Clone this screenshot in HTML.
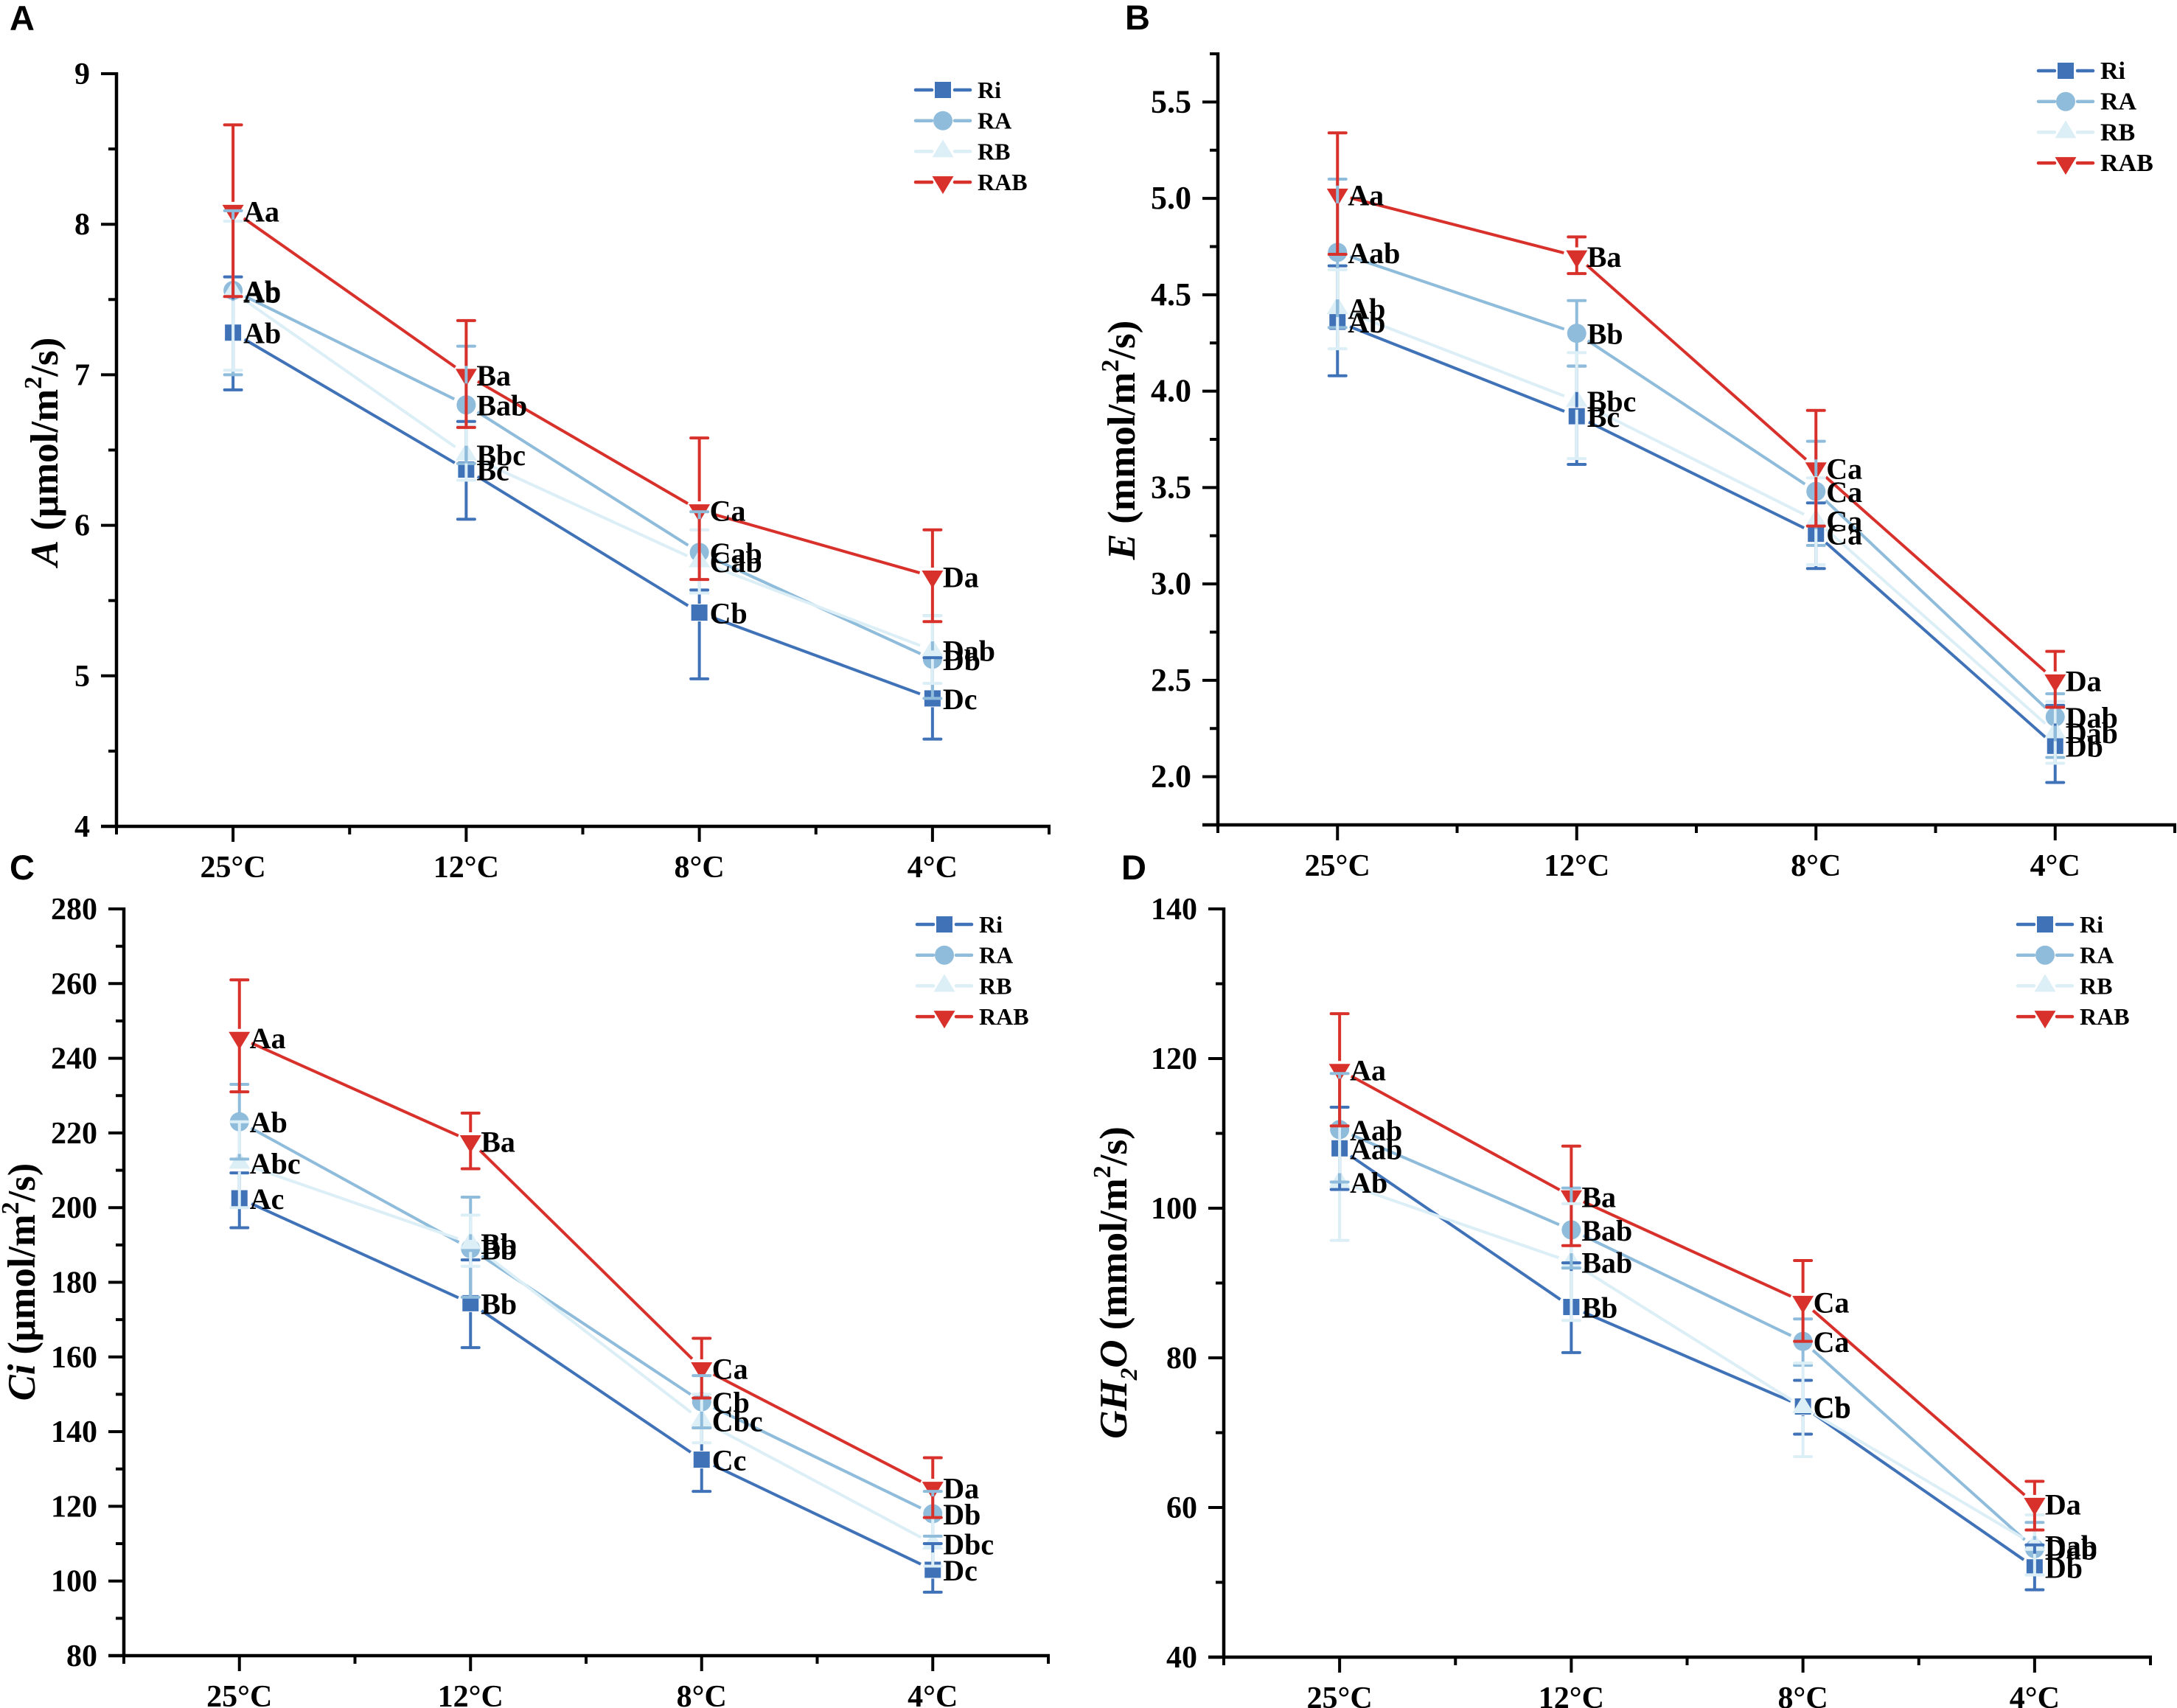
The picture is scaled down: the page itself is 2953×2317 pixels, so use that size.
<!DOCTYPE html>
<html lang="en">
<head>
<meta charset="utf-8">
<title>Photosynthesis responses across temperature</title>
<style>
html,body{margin:0;padding:0;background:#fff;}
svg{display:block;font-family:"Liberation Serif",serif;}
text{fill:#000;font-weight:bold;}
</style>
</head>
<body>
<svg id="figure" xmlns="http://www.w3.org/2000/svg" width="2953" height="2317" viewBox="0 0 2953 2317"></svg>
<script>
// ---- shared categories / series names ----
const categories = ['25°C', '12°C', '8°C', '4°C'];
const seriesNames = ['Ri', 'RA', 'RB', 'RAB'];

// ---- panel A ----
const aTicks = [4, 5, 6, 7, 8, 9];
const aRi = [7.28, 6.37, 5.42, 4.85];
const aRiLow = [6.90, 6.04, 4.98, 4.58];
const aRiHigh = [7.65, 6.69, 5.57, 5.12];
const aRA = [7.56, 6.80, 5.82, 5.11];
const aRALow = [7.00, 6.41, 5.55, 4.85];
const aRAHigh = [8.09, 7.19, 6.09, 5.40];
const aRB = [7.55, 6.47, 5.76, 5.17];
const aRBLow = [7.03, 6.30, 5.55, 4.95];
const aRBHigh = [8.02, 6.66, 5.97, 5.40];
const aRAB = [8.09, 7.00, 6.10, 5.66];
const aRABLow = [7.52, 6.65, 5.64, 5.36];
const aRABHigh = [8.66, 7.36, 6.58, 5.97];
const aLabelsRi = ['Ab', 'Bc', 'Cb', 'Dc'];
const aLabelsRA = ['Ab', 'Bab', 'Cab', 'Db'];
const aLabelsRB = ['Ab', 'Bbc', 'Cab', 'Dab'];
const aLabelsRAB = ['Aa', 'Ba', 'Ca', 'Da'];

// ---- panel B ----
const bTicks = [2.0, 2.5, 3.0, 3.5, 4.0, 4.5, 5.0, 5.5];
const bRi = [4.36, 3.87, 3.26, 2.16];
const bRiLow = [4.08, 3.62, 3.08, 1.97];
const bRiHigh = [4.65, 4.13, 3.42, 2.37];
const bRA = [4.72, 4.30, 3.48, 2.31];
const bRALow = [4.33, 4.13, 3.20, 2.10];
const bRAHigh = [5.10, 4.47, 3.74, 2.43];
const bRB = [4.43, 3.95, 3.33, 2.23];
const bRBLow = [4.22, 3.65, 3.10, 2.07];
const bRBHigh = [4.63, 4.20, 3.55, 2.39];
const bRAB = [5.02, 4.70, 3.60, 2.50];
const bRABLow = [4.71, 4.61, 3.30, 2.36];
const bRABHigh = [5.34, 4.80, 3.90, 2.65];
const bLabelsRi = ['Ab', 'Bc', 'Ca', 'Db'];
const bLabelsRA = ['Aab', 'Bb', 'Ca', 'Dab'];
const bLabelsRB = ['Ab', 'Bbc', 'Ca', 'Dab'];
const bLabelsRAB = ['Aa', 'Ba', 'Ca', 'Da'];

// ---- panel C ----
const cTicks = [80, 100, 120, 140, 160, 180, 200, 220, 240, 260, 280];
const cRi = [202.5, 174.4, 132.5, 103];
const cRiLow = [194.6, 162.5, 124, 97];
const cRiHigh = [209.3, 186, 141, 110];
const cRA = [223, 189, 148, 118];
const cRALow = [213, 176, 141, 112];
const cRAHigh = [233, 202.8, 155, 124];
const cRB = [212, 190.5, 143, 110];
const cRBLow = [200, 184.3, 137, 104];
const cRBHigh = [223, 198, 150, 117];
const cRAB = [245.5, 217.8, 157, 125];
const cRABLow = [231, 210.4, 149, 117];
const cRABHigh = [261, 225.3, 165, 133];
const cLabelsRi = ['Ac', 'Bb', 'Cc', 'Dc'];
const cLabelsRA = ['Ab', 'Bb', 'Cb', 'Db'];
const cLabelsRB = ['Abc', 'Bb', 'Cbc', 'Dbc'];
const cLabelsRAB = ['Aa', 'Ba', 'Ca', 'Da'];

// ---- panel D ----
const dTicks = [40, 60, 80, 100, 120, 140];
const dRi = [108, 86.8, 73.5, 52];
const dRiLow = [102.5, 80.7, 69.8, 49];
const dRiHigh = [113.5, 92.7, 77, 55];
const dRA = [110.5, 97.1, 82.2, 54.5];
const dRALow = [103.5, 92, 79, 51];
const dRAHigh = [118, 102.7, 85.2, 58];
const dRB = [103.5, 92.8, 73.4, 55];
const dRBLow = [95.7, 85, 66.8, 51];
const dRBHigh = [111, 100.6, 79.3, 59];
const dRAB = [118.5, 101.6, 87.5, 60.5];
const dRABLow = [111, 95, 82.2, 57];
const dRABHigh = [126, 108.3, 93, 63.5];
const dLabelsRi = ['Aab', 'Bb', 'Cb', 'Db'];
const dLabelsRA = ['Aab', 'Bab', 'Ca', 'Dab'];
const dLabelsRB = ['Ab', 'Bab', 'Cb', 'Dab'];
const dLabelsRAB = ['Aa', 'Ba', 'Ca', 'Da'];

const colors = ['#4072b8', '#8fbcdb', '#dceef6', '#d8302a'];
const NS = 'http://www.w3.org/2000/svg';
const svg = document.getElementById('figure');

function make(parent, tag, attrs) {
  const el = document.createElementNS(NS, tag);
  for (const k in attrs) el.setAttribute(k, attrs[k]);
  parent.appendChild(el);
  return el;
}

function drawMarker(parent, type, x, y, color) {
  let m;
  if (type === 0) {
    m = make(parent, 'rect', {x: x - 11, y: y - 11, width: 22, height: 22, fill: color});
  } else if (type === 1) {
    m = make(parent, 'circle', {cx: x, cy: y, r: 13, fill: color});
  } else if (type === 2) {
    m = make(parent, 'polygon', {points: (x) + ',' + (y - 16) + ' ' + (x - 14.5) + ',' + (y + 8) + ' ' + (x + 14.5) + ',' + (y + 8), fill: color});
  } else {
    m = make(parent, 'polygon', {points: (x) + ',' + (y + 16) + ' ' + (x - 14.5) + ',' + (y - 8) + ' ' + (x + 14.5) + ',' + (y - 8), fill: color});
  }
  return m;
}

function drawPanel(p) {
  const g = make(svg, 'g', {});
  
  

  const xStep = (p.right - p.left) / categories.length;
  const xScale = i => p.left + xStep * (i + 0.5);
  const yScale = v => p.bottom - (v - p.yMin) / (p.yMax - p.yMin) * (p.bottom - p.top);

  const letter = make(g, 'text', {x: p.letterX, y: p.letterY, 'font-size': 47, style: 'font-family:"Liberation Sans",sans-serif'});
  letter.textContent = p.id;
  
  

  // axes
  const axisStyle = {stroke: '#000', 'stroke-width': 4.5, fill: 'none'};
  const yAxis = make(g, 'line', Object.assign({x1: p.left, x2: p.left, y1: p.top - 2, y2: p.bottom + 2}, axisStyle));
  
  
  const xAxis = make(g, 'line', Object.assign({x1: p.left - 21, x2: p.right + 2, y1: p.bottom, y2: p.bottom}, axisStyle));
  
  

  // y ticks
  p.ticks.forEach((t, i) => {
    const y = yScale(t);
    const tick = make(g, 'line', {x1: p.left - 21, x2: p.left, y1: y, y2: y, stroke: '#000', 'stroke-width': 4});
    
    
    const label = make(g, 'text', {x: p.left - 36, y: y + 14, 'text-anchor': 'end', 'font-size': p.tickFont});
    label.textContent = p.tickFixed ? t.toFixed(p.tickFixed) : String(t);
    
    
    const step = p.ticks.length > 1 ? p.ticks[1] - p.ticks[0] : 1;
    [t + step / 2, t - step / 2].forEach((mv, k) => {
      if (mv > p.yMax + 1e-6 || mv < p.yMin - 1e-6) return;
      if (k === 1 && i > 0) return;
      const my = yScale(mv);
      const minor = make(g, 'line', {x1: p.left - 11, x2: p.left, y1: my, y2: my, stroke: '#000', 'stroke-width': 4});
      
      
    });
  });

  // x ticks
  for (let i = 0; i <= categories.length; i++) {
    const mx = p.left + xStep * i;
    const minor = make(g, 'line', {x1: mx, x2: mx, y1: p.bottom, y2: p.bottom + 11, stroke: '#000', 'stroke-width': 4});
    
    
  }
  categories.forEach((c, i) => {
    const x = xScale(i);
    const tick = make(g, 'line', {x1: x, x2: x, y1: p.bottom, y2: p.bottom + 21, stroke: '#000', 'stroke-width': 4});
    
    
    const label = make(g, 'text', {x: x, y: p.bottom + 69, 'text-anchor': 'middle', 'font-size': 42});
    label.textContent = c;
    
    
  });

  // y title
  const title = make(g, 'text', {transform: 'translate(' + p.titleX + ',' + p.titleY + ') rotate(-90)', 'text-anchor': 'middle', 'font-size': p.titleFont});
  
  
  p.title.forEach(part => {
    const a = {};
    if (part.i) a['font-style'] = 'italic';
    if (part.dy) a.dy = part.dy;
    if (part.fs) a['font-size'] = part.fs;
    const ts = make(title, 'tspan', a);
    ts.textContent = part.t;
  });

  // series lines
  p.values.forEach((vals, s) => {
    for (let i = 0; i < vals.length - 1; i++) {
      const x1 = xScale(i), y1 = yScale(vals[i]), x2 = xScale(i + 1), y2 = yScale(vals[i + 1]);
      const len = Math.hypot(x2 - x1, y2 - y1);
      const ux = (x2 - x1) / len, uy = (y2 - y1) / len;
      const seg = make(g, 'line', {x1: x1 + ux * 18, y1: y1 + uy * 18, x2: x2 - ux * 18, y2: y2 - uy * 18, stroke: colors[s], 'stroke-width': 4});
      
      
    }
  });

  // markers
  p.values.forEach((vals, s) => {
    vals.forEach((v, i) => {
      const m = drawMarker(g, s, xScale(i), yScale(v), colors[s]);
      
      
    });
  });

  // error bars, leaving a gap across their own marker
  p.values.forEach((vals, s) => {
    vals.forEach((v, i) => {
      const x = xScale(i), y = yScale(v), yl = yScale(p.lows[s][i]), yh = yScale(p.highs[s][i]);
      const parts = [];
      if (y + 12 < yl) parts.push([y + 12, yl]);
      if (y - 12 > yh) parts.push([yh, y - 12]);
      parts.forEach(seg => {
        const bar = make(g, 'line', {x1: x, x2: x, y1: seg[0], y2: seg[1], stroke: colors[s], 'stroke-width': 4});
        
        
      });
      [yl, yh].forEach(cy => {
        const cap = make(g, 'line', {x1: x - 11.5, x2: x + 11.5, y1: cy, y2: cy, stroke: colors[s], 'stroke-width': 4, 'stroke-linecap': 'round'});
        
        
      });
    });
  });

  // significance labels
  p.values.forEach((vals, s) => {
    vals.forEach((v, i) => {
      const t = make(g, 'text', {x: xScale(i) + 14, y: yScale(v) + 14.5, 'font-size': 40});
      t.textContent = p.labels[s][i];
      
      
    });
  });

  // legend
  const lg = make(g, 'g', {});
  
  
  seriesNames.forEach((n, s) => {
    const ry = p.legendY + s * 41.7;
    const entry = make(lg, 'g', {});
    
    
    make(entry, 'line', {x1: p.legendX - 37, x2: p.legendX - 15, y1: ry, y2: ry, stroke: colors[s], 'stroke-width': 4.5, 'stroke-linecap': 'round'});
    make(entry, 'line', {x1: p.legendX + 16, x2: p.legendX + 37, y1: ry, y2: ry, stroke: colors[s], 'stroke-width': 4.5, 'stroke-linecap': 'round'});
    drawMarker(entry, s, p.legendX, ry, colors[s]);
    const t = make(entry, 'text', {x: p.legendX + p.legendTextGap, y: ry + 11, 'font-size': p.legendFont});
    t.textContent = n;
  });
}

drawPanel({
  id: 'A', left: 158, right: 1423, top: 100, bottom: 1121, yMin: 4, yMax: 9,
  ticks: aTicks, tickFont: 42, tickFixed: 0,
  letterX: 13, letterY: 41,
  titleX: 78, titleY: 613, titleFont: 53,
  title: [{t: 'A', i: 1}, {t: ' (μmol/m'}, {t: '2', dy: -22, fs: 34}, {t: '/s)', dy: 22}],
  values: [aRi, aRA, aRB, aRAB], lows: [aRiLow, aRALow, aRBLow, aRABLow], highs: [aRiHigh, aRAHigh, aRBHigh, aRABHigh],
  labels: [aLabelsRi, aLabelsRA, aLabelsRB, aLabelsRAB],
  legendX: 1279, legendY: 122, legendFont: 32, legendTextGap: 47
});
drawPanel({
  id: 'B', left: 1652, right: 2950, top: 73, bottom: 1119, yMin: 1.75, yMax: 5.75,
  ticks: bTicks, tickFont: 44, tickFixed: 1,
  letterX: 1526, letterY: 40,
  titleX: 1539, titleY: 597, titleFont: 53,
  title: [{t: 'E', i: 1}, {t: ' (mmol/m'}, {t: '2', dy: -22, fs: 34}, {t: '/s)', dy: 22}],
  values: [bRi, bRA, bRB, bRAB], lows: [bRiLow, bRALow, bRBLow, bRABLow], highs: [bRiHigh, bRAHigh, bRBHigh, bRABHigh],
  labels: [bLabelsRi, bLabelsRA, bLabelsRB, bLabelsRAB],
  legendX: 2802, legendY: 96, legendFont: 34, legendTextGap: 47
});
drawPanel({
  id: 'C', left: 168, right: 1422, top: 1233, bottom: 2246, yMin: 80, yMax: 280,
  ticks: cTicks, tickFont: 42, tickFixed: 0,
  letterX: 13, letterY: 1193,
  titleX: 47, titleY: 1739, titleFont: 52.5,
  title: [{t: 'Ci', i: 1}, {t: ' (μmol/m'}, {t: '2', dy: -22, fs: 34}, {t: '/s)', dy: 22}],
  values: [cRi, cRA, cRB, cRAB], lows: [cRiLow, cRALow, cRBLow, cRABLow], highs: [cRiHigh, cRAHigh, cRBHigh, cRABHigh],
  labels: [cLabelsRi, cLabelsRA, cLabelsRB, cLabelsRAB],
  legendX: 1281, legendY: 1254, legendFont: 32, legendTextGap: 47
});
drawPanel({
  id: 'D', left: 1660, right: 2917, top: 1233, bottom: 2248, yMin: 40, yMax: 140,
  ticks: dTicks, tickFont: 42, tickFixed: 0,
  letterX: 1521, letterY: 1193,
  titleX: 1528, titleY: 1740, titleFont: 53,
  title: [{t: 'GH', i: 1}, {t: '2', i: 1, dy: 14, fs: 33}, {t: 'O', i: 1, dy: -14}, {t: ' (mmol/m'}, {t: '2', dy: -22, fs: 34}, {t: '/s)', dy: 22}],
  values: [dRi, dRA, dRB, dRAB], lows: [dRiLow, dRALow, dRBLow, dRABLow], highs: [dRiHigh, dRAHigh, dRBHigh, dRABHigh],
  labels: [dLabelsRi, dLabelsRA, dLabelsRB, dLabelsRAB],
  legendX: 2774, legendY: 1254, legendFont: 32, legendTextGap: 47
});
</script>
</body>
</html>
